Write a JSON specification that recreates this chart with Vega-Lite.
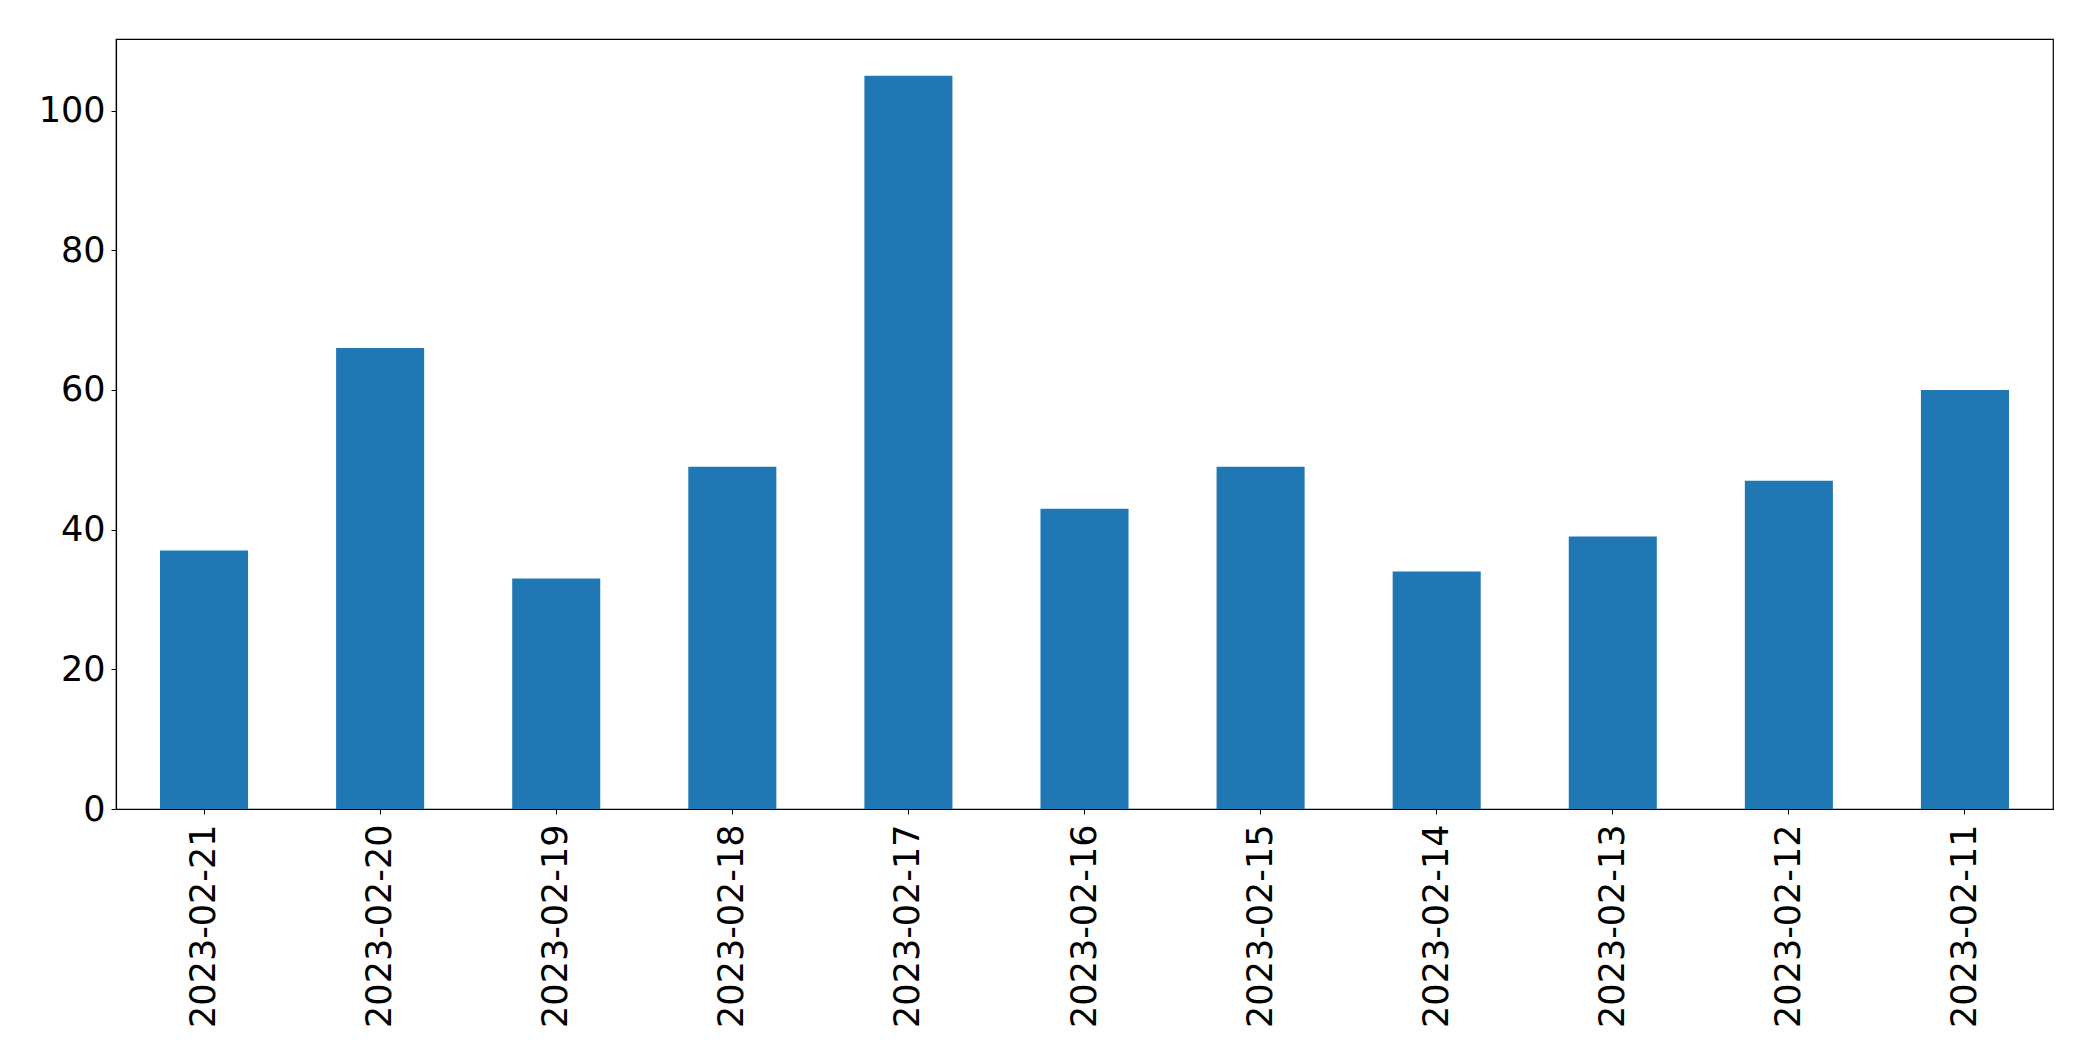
{
  "$schema": "https://vega.github.io/schema/vega-lite/v6.json",
  "autosize": "none",
  "padding": {"left": 116, "top": 39, "right": 40, "bottom": 252},
  "width": 1937,
  "height": 770,
  "background": "white",
  "config": {
    "view": {"stroke": "black", "strokeWidth": 1.2},
    "font": "DejaVu Sans"
  },
  "data": {
    "values": [
      {"date": "2023-02-21", "count": 37},
      {"date": "2023-02-20", "count": 66},
      {"date": "2023-02-19", "count": 33},
      {"date": "2023-02-18", "count": 49},
      {"date": "2023-02-17", "count": 105},
      {"date": "2023-02-16", "count": 43},
      {"date": "2023-02-15", "count": 49},
      {"date": "2023-02-14", "count": 34},
      {"date": "2023-02-13", "count": 39},
      {"date": "2023-02-12", "count": 47},
      {"date": "2023-02-11", "count": 60}
    ]
  },
  "mark": {"type": "bar", "color": "#1f77b4"},
  "encoding": {
    "x": {
      "field": "date",
      "type": "nominal",
      "sort": null,
      "scale": {"paddingInner": 0.5, "paddingOuter": 0.25},
      "axis": {
        "title": null,
        "labelAngle": -90,
        "labelFontSize": 35,
        "labelLimit": 0,
        "labelColor": "black",
        "labelPadding": 10,
        "tickColor": "black",
        "tickSize": 5,
        "domainColor": "black",
        "domainWidth": 1.2,
        "labelFont": "DejaVu Sans"
      }
    },
    "y": {
      "field": "count",
      "type": "quantitative",
      "scale": {"domain": [0, 110.25], "nice": false},
      "axis": {
        "title": null,
        "values": [0, 20, 40, 60, 80, 100],
        "grid": false,
        "labelFontSize": 35,
        "labelColor": "black",
        "labelPadding": 6,
        "tickColor": "black",
        "tickSize": 5,
        "domainColor": "black",
        "domainWidth": 1.2,
        "labelFont": "DejaVu Sans"
      }
    }
  }
}
